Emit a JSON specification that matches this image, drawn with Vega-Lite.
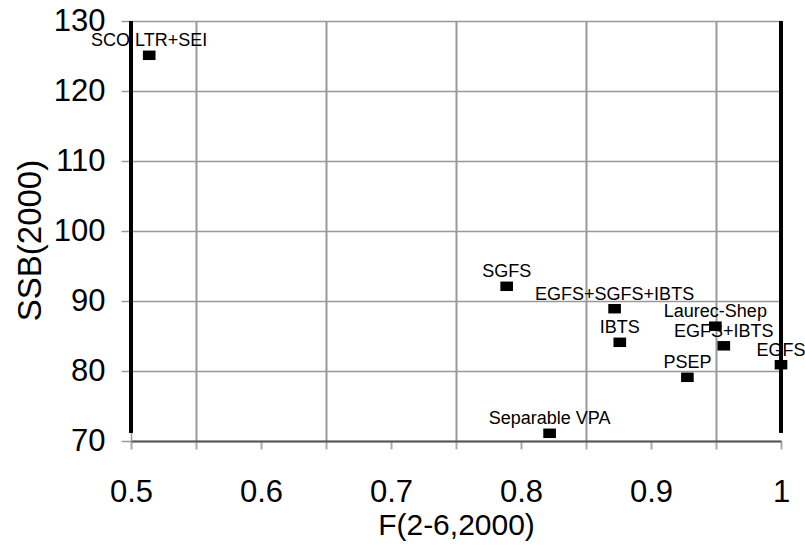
{
  "$schema": "https://vega.github.io/schema/vega-lite/v6.json",
  "width": 650,
  "height": 420,
  "autosize": "none",
  "padding": {"left": 131, "top": 21, "right": 24, "bottom": 104},
  "background": "white",
  "config": {
    "view": {"stroke": null},
    "font": "Liberation Sans"
  },
  "data": {
    "values": [
      {"method": "SCO LTR+SEI", "F": 0.514, "SSB": 125.1},
      {"method": "SGFS", "F": 0.789, "SSB": 92.1},
      {"method": "EGFS+SGFS+IBTS", "F": 0.872, "SSB": 88.9},
      {"method": "IBTS", "F": 0.876, "SSB": 84.1},
      {"method": "Laurec-Shep", "F": 0.9495, "SSB": 86.4},
      {"method": "EGFS+IBTS", "F": 0.956, "SSB": 83.6},
      {"method": "EGFS", "F": 1.0, "SSB": 80.9},
      {"method": "PSEP", "F": 0.928, "SSB": 79.1},
      {"method": "Separable VPA", "F": 0.822, "SSB": 71.1}
    ]
  },
  "layer": [
    {
      "mark": {"type": "rule", "color": "black", "strokeWidth": 3},
      "encoding": {
        "x": {"datum": 0.5, "type": "quantitative"},
        "y": {"datum": 71.2, "type": "quantitative"},
        "y2": {"datum": 130}
      }
    },
    {
      "mark": {"type": "rule", "color": "black", "strokeWidth": 3},
      "encoding": {
        "x": {"datum": 1.0, "type": "quantitative"},
        "y": {"datum": 71.2, "type": "quantitative"},
        "y2": {"datum": 130}
      }
    },
    {
      "mark": {"type": "point", "shape": "M-1,-0.75L1,-0.75L1,0.75L-1,0.75Z", "size": 160, "filled": true, "color": "black", "opacity": 1},
      "encoding": {
        "x": {
          "field": "F", "type": "quantitative",
          "scale": {"domain": [0.5, 1.0], "nice": false, "zero": false},
          "axis": {
            "title": "F(2-6,2000)",
            "values": [0.5, 0.55, 0.6, 0.65, 0.7, 0.75, 0.8, 0.85, 0.9, 0.95, 1.0],
            "labelExpr": "round(datum.value*20) % 2 == 0 ? format(datum.value, '~g') : ''",
            "labelFontSize": 31,
            "labelColor": "black",
            "labelPadding": 28,
            "labelFlush": false,
            "labelFont": "Liberation Sans",
            "titleFontSize": 30,
            "titleFontWeight": "normal",
            "titleColor": "black",
            "titleFont": "Liberation Sans",
            "titlePadding": 3,
            "grid": true,
            "gridColor": "#999999",
            "gridWidth": 2,
            "gridOpacity": {"condition": {"test": "round(datum.value*20) % 2 == 1", "value": 1}, "value": 0},
            "tickColor": "#aaaaaa",
            "tickWidth": 2,
            "tickSize": 8,
            "domainColor": "#555555",
            "domainWidth": 2
          }
        },
        "y": {
          "field": "SSB", "type": "quantitative",
          "scale": {"domain": [70, 130], "nice": false, "zero": false},
          "axis": {
            "title": "SSB(2000)",
            "values": [70, 75, 80, 85, 90, 95, 100, 105, 110, 115, 120, 125, 130],
            "labelExpr": "datum.value % 10 == 0 ? datum.label : ''",
            "labelFontSize": 31,
            "labelColor": "black",
            "labelPadding": 16,
            "labelFlush": false,
            "labelFont": "Liberation Sans",
            "titleFontSize": 33,
            "titleFontWeight": "normal",
            "titleColor": "black",
            "titleFont": "Liberation Sans",
            "titleX": -101,
            "titleY": 219,
            "titleBaseline": "middle",
            "titleAlign": "center",
            "grid": true,
            "gridColor": "#999999",
            "gridWidth": 1.5,
            "gridOpacity": {"condition": {"test": "datum.value % 10 == 0", "value": 1}, "value": 0},
            "tickColor": "#999999",
            "tickWidth": 1.5,
            "tickSize": 10,
            "domainColor": "#999999",
            "domainWidth": 1.5
          }
        }
      }
    },
    {
      "mark": {"type": "text", "fontSize": 18, "font": "Liberation Sans", "color": "black", "dy": -9, "baseline": "alphabetic", "align": "center"},
      "encoding": {
        "x": {"field": "F", "type": "quantitative"},
        "y": {"field": "SSB", "type": "quantitative"},
        "text": {"field": "method"}
      }
    }
  ]
}
